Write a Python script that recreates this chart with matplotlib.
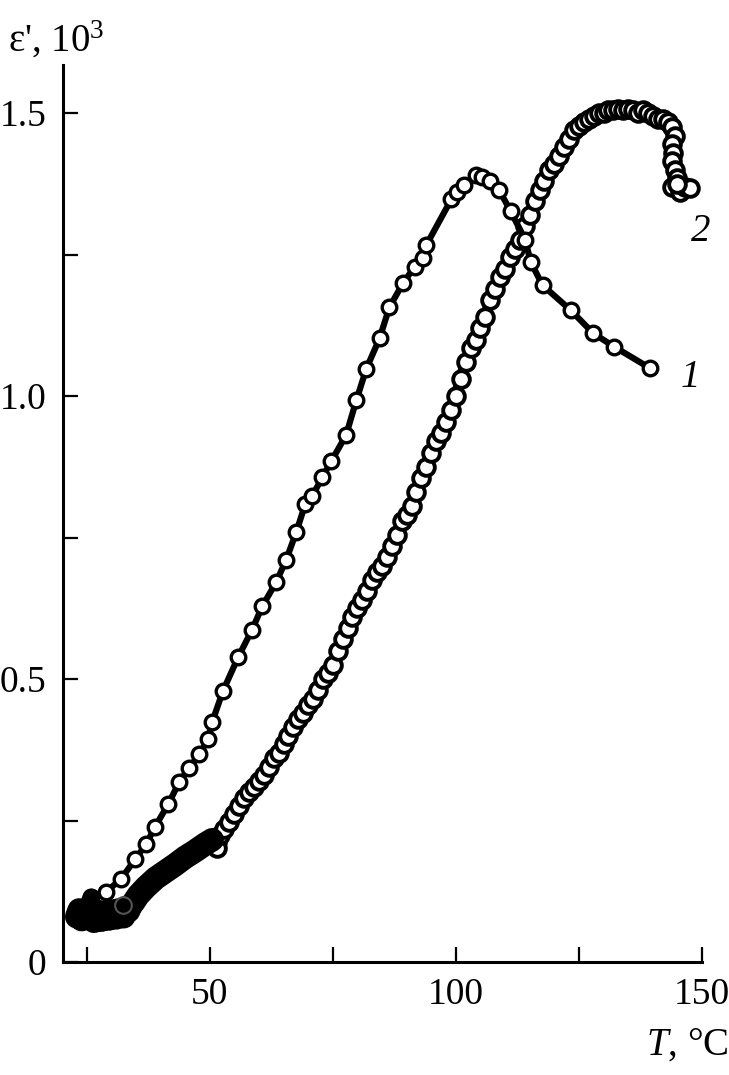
import matplotlib
matplotlib.use("Agg")
import matplotlib.pyplot as plt

plt.rcParams['font.family'] = ['Liberation Serif', 'DejaVu Serif']
plt.rcParams['mathtext.fontset'] = 'custom'
plt.rcParams['mathtext.rm'] = 'Liberation Serif'
plt.rcParams['mathtext.it'] = 'Liberation Serif:italic'

# curve 1 (peak near 105 C)
t1 = [24.0, 25.0, 25.9, 29.0, 32.0, 34.9, 37.1, 38.9, 41.6, 43.8, 45.8, 47.9,
      49.7, 50.5, 52.7, 55.8, 58.6, 60.7, 63.5, 65.5, 67.6, 69.4, 70.8, 72.9,
      74.7, 77.7, 79.8, 81.8, 84.5, 86.5, 89.3, 91.6, 93.4, 94.0, 99.1, 100.3,
      101.7, 104.0, 105.4, 107.0, 108.8, 111.1, 114.1, 115.2, 117.6, 123.3,
      127.9, 132.2, 139.5]
e1 = [0.088, 0.095, 0.115, 0.124, 0.147, 0.182, 0.208, 0.239, 0.279, 0.318,
      0.343, 0.367, 0.394, 0.424, 0.479, 0.539, 0.587, 0.629, 0.671, 0.710,
      0.760, 0.809, 0.823, 0.857, 0.885, 0.931, 0.993, 1.048, 1.102, 1.157,
      1.200, 1.228, 1.244, 1.267, 1.348, 1.360, 1.373, 1.390, 1.387, 1.380,
      1.364, 1.327, 1.276, 1.237, 1.196, 1.152, 1.111, 1.087, 1.049]

# curve 2 (peak near 135 C), dense measurement
t2 = [23.0, 23.5, 24.0, 24.5, 25.0, 25.5, 26.0, 26.5, 27.0, 27.5, 28.0, 28.5,
      29.0, 29.5, 30.0, 30.5, 31.0, 31.5, 32.0, 32.5, 33.0, 33.5, 34.0, 34.5,
      35.5, 37.0, 39.0, 41.0, 43.0, 45.0, 47.0, 49.0, 50.5, 51.5, 51.5, 52.0,
      53.0, 54.0, 55.0, 56.0, 57.0, 58.0, 59.0, 60.0, 61.0, 62.0, 63.0, 64.0,
      65.0, 66.0, 67.0, 68.0, 69.0, 70.0, 71.0, 72.0, 73.0, 74.0, 75.0, 76.0,
      77.0, 78.0, 79.0, 80.0, 81.0, 82.0, 83.0, 84.0, 85.0, 86.0, 87.0, 88.0,
      89.0, 90.0, 91.0, 92.0, 93.0, 94.0, 95.0, 96.0, 97.0, 98.0, 99.0, 100.0,
      101.0, 102.0, 103.0, 104.0, 105.0, 106.0, 107.0, 108.0, 109.0, 110.0,
      111.0, 112.0, 113.0, 114.0, 115.0, 116.0, 117.0, 118.0, 119.0, 120.0,
      121.0, 122.0, 123.0, 124.0, 125.0, 126.0, 127.0, 128.0, 129.0, 130.0,
      131.0, 132.0, 133.0, 134.0, 135.0, 136.0, 137.0, 138.0, 139.0, 140.0,
      141.0, 142.0, 143.0, 144.0, 144.5, 144.0, 144.2, 143.8, 144.5, 145.0,
      144.0, 145.5, 146.5, 147.5, 145.0]
e2 = [0.080, 0.092, 0.075, 0.088, 0.078, 0.095, 0.080, 0.072, 0.090, 0.080,
      0.074, 0.088, 0.082, 0.076, 0.090, 0.083, 0.078, 0.092, 0.085, 0.080,
      0.096, 0.090, 0.100, 0.105, 0.118, 0.132, 0.148, 0.160, 0.172, 0.185,
      0.196, 0.208, 0.216, 0.212, 0.201, 0.225, 0.235, 0.248, 0.262, 0.275,
      0.290, 0.300, 0.310, 0.320, 0.330, 0.345, 0.360, 0.370, 0.385, 0.400,
      0.415, 0.430, 0.440, 0.455, 0.465, 0.480, 0.500, 0.510, 0.525, 0.550,
      0.570, 0.590, 0.610, 0.625, 0.640, 0.655, 0.675, 0.690, 0.700, 0.715,
      0.735, 0.755, 0.780, 0.790, 0.805, 0.830, 0.855, 0.875, 0.900, 0.920,
      0.935, 0.955, 0.975, 1.000, 1.030, 1.060, 1.085, 1.100, 1.120, 1.140,
      1.170, 1.190, 1.210, 1.225, 1.245, 1.260, 1.275, 1.300, 1.320, 1.345,
      1.365, 1.380, 1.400, 1.410, 1.425, 1.440, 1.455, 1.470, 1.478, 1.485,
      1.490, 1.495, 1.500, 1.500, 1.505, 1.505, 1.508, 1.505, 1.508, 1.505,
      1.500, 1.505, 1.500, 1.495, 1.490, 1.490, 1.485, 1.475, 1.460, 1.445,
      1.430, 1.415, 1.400, 1.385, 1.370, 1.360, 1.370, 1.368, 1.375]

# odd grey circle near the start
grey_t = [32.4]
grey_e = [0.101]

n_blob = 33  # the dense starting cluster of curve 2 prints as a solid black blob

fig = plt.figure(figsize=(7.29, 10.75), dpi=100)
ax = fig.add_axes([0.0864, 0.1051, 0.8766, 0.8344])

ax.plot(t2, e2, '-o', color='black', lw=8, ms=12, mfc='white', mec='black', mew=2.8)
ax.plot(t2[:n_blob], e2[:n_blob], '-', color='black', lw=17, solid_capstyle='round')
ax.plot(t1, e1, '-o', color='black', lw=4.5, ms=10.5, mfc='white', mec='black', mew=2.4)
ax.plot(t1[:3], e1[:3], '-', color='black', lw=12, solid_capstyle='round')
ax.plot(grey_t, grey_e, 'o', ms=12, mfc='none', mec='#555555', mew=1.5)

ax.set_xlim(20.2, 150)
ax.set_ylim(0, 1.585)
ax.set_xticks([50, 100, 150])
ax.set_xticks([25, 75, 125], minor=True)
ax.set_yticks([0, 0.5, 1.0, 1.5])
ax.set_yticklabels(['0', '0.5', '1.0', '1.5'])
ax.set_yticks([0.25, 0.75, 1.25], minor=True)

for side in ['top', 'right']:
    ax.spines[side].set_visible(False)
for side in ['left', 'bottom']:
    ax.spines[side].set_linewidth(2.2)

ax.tick_params(which='both', direction='in', length=11, width=1.6, labelsize=27)
ax.tick_params(axis='x', which='both', pad=11)
ax.tick_params(axis='y', which='both', pad=12)

ax.text(147.7, 1.032, '1', fontsize=28, style='italic', ha='center', va='center', clip_on=False)
ax.text(149.7, 1.29, '2', fontsize=28, style='italic', ha='center', va='center', clip_on=False)

fig.text(8 / 729, 1 - 40 / 1075, r"ε', 10$^{3}$", fontsize=28, ha='left', va='center')
fig.text(728 / 729, 1 - 1045 / 1075, r"$T$, °C", fontsize=28, ha='right', va='center')

fig.savefig('out.png', dpi=100)
